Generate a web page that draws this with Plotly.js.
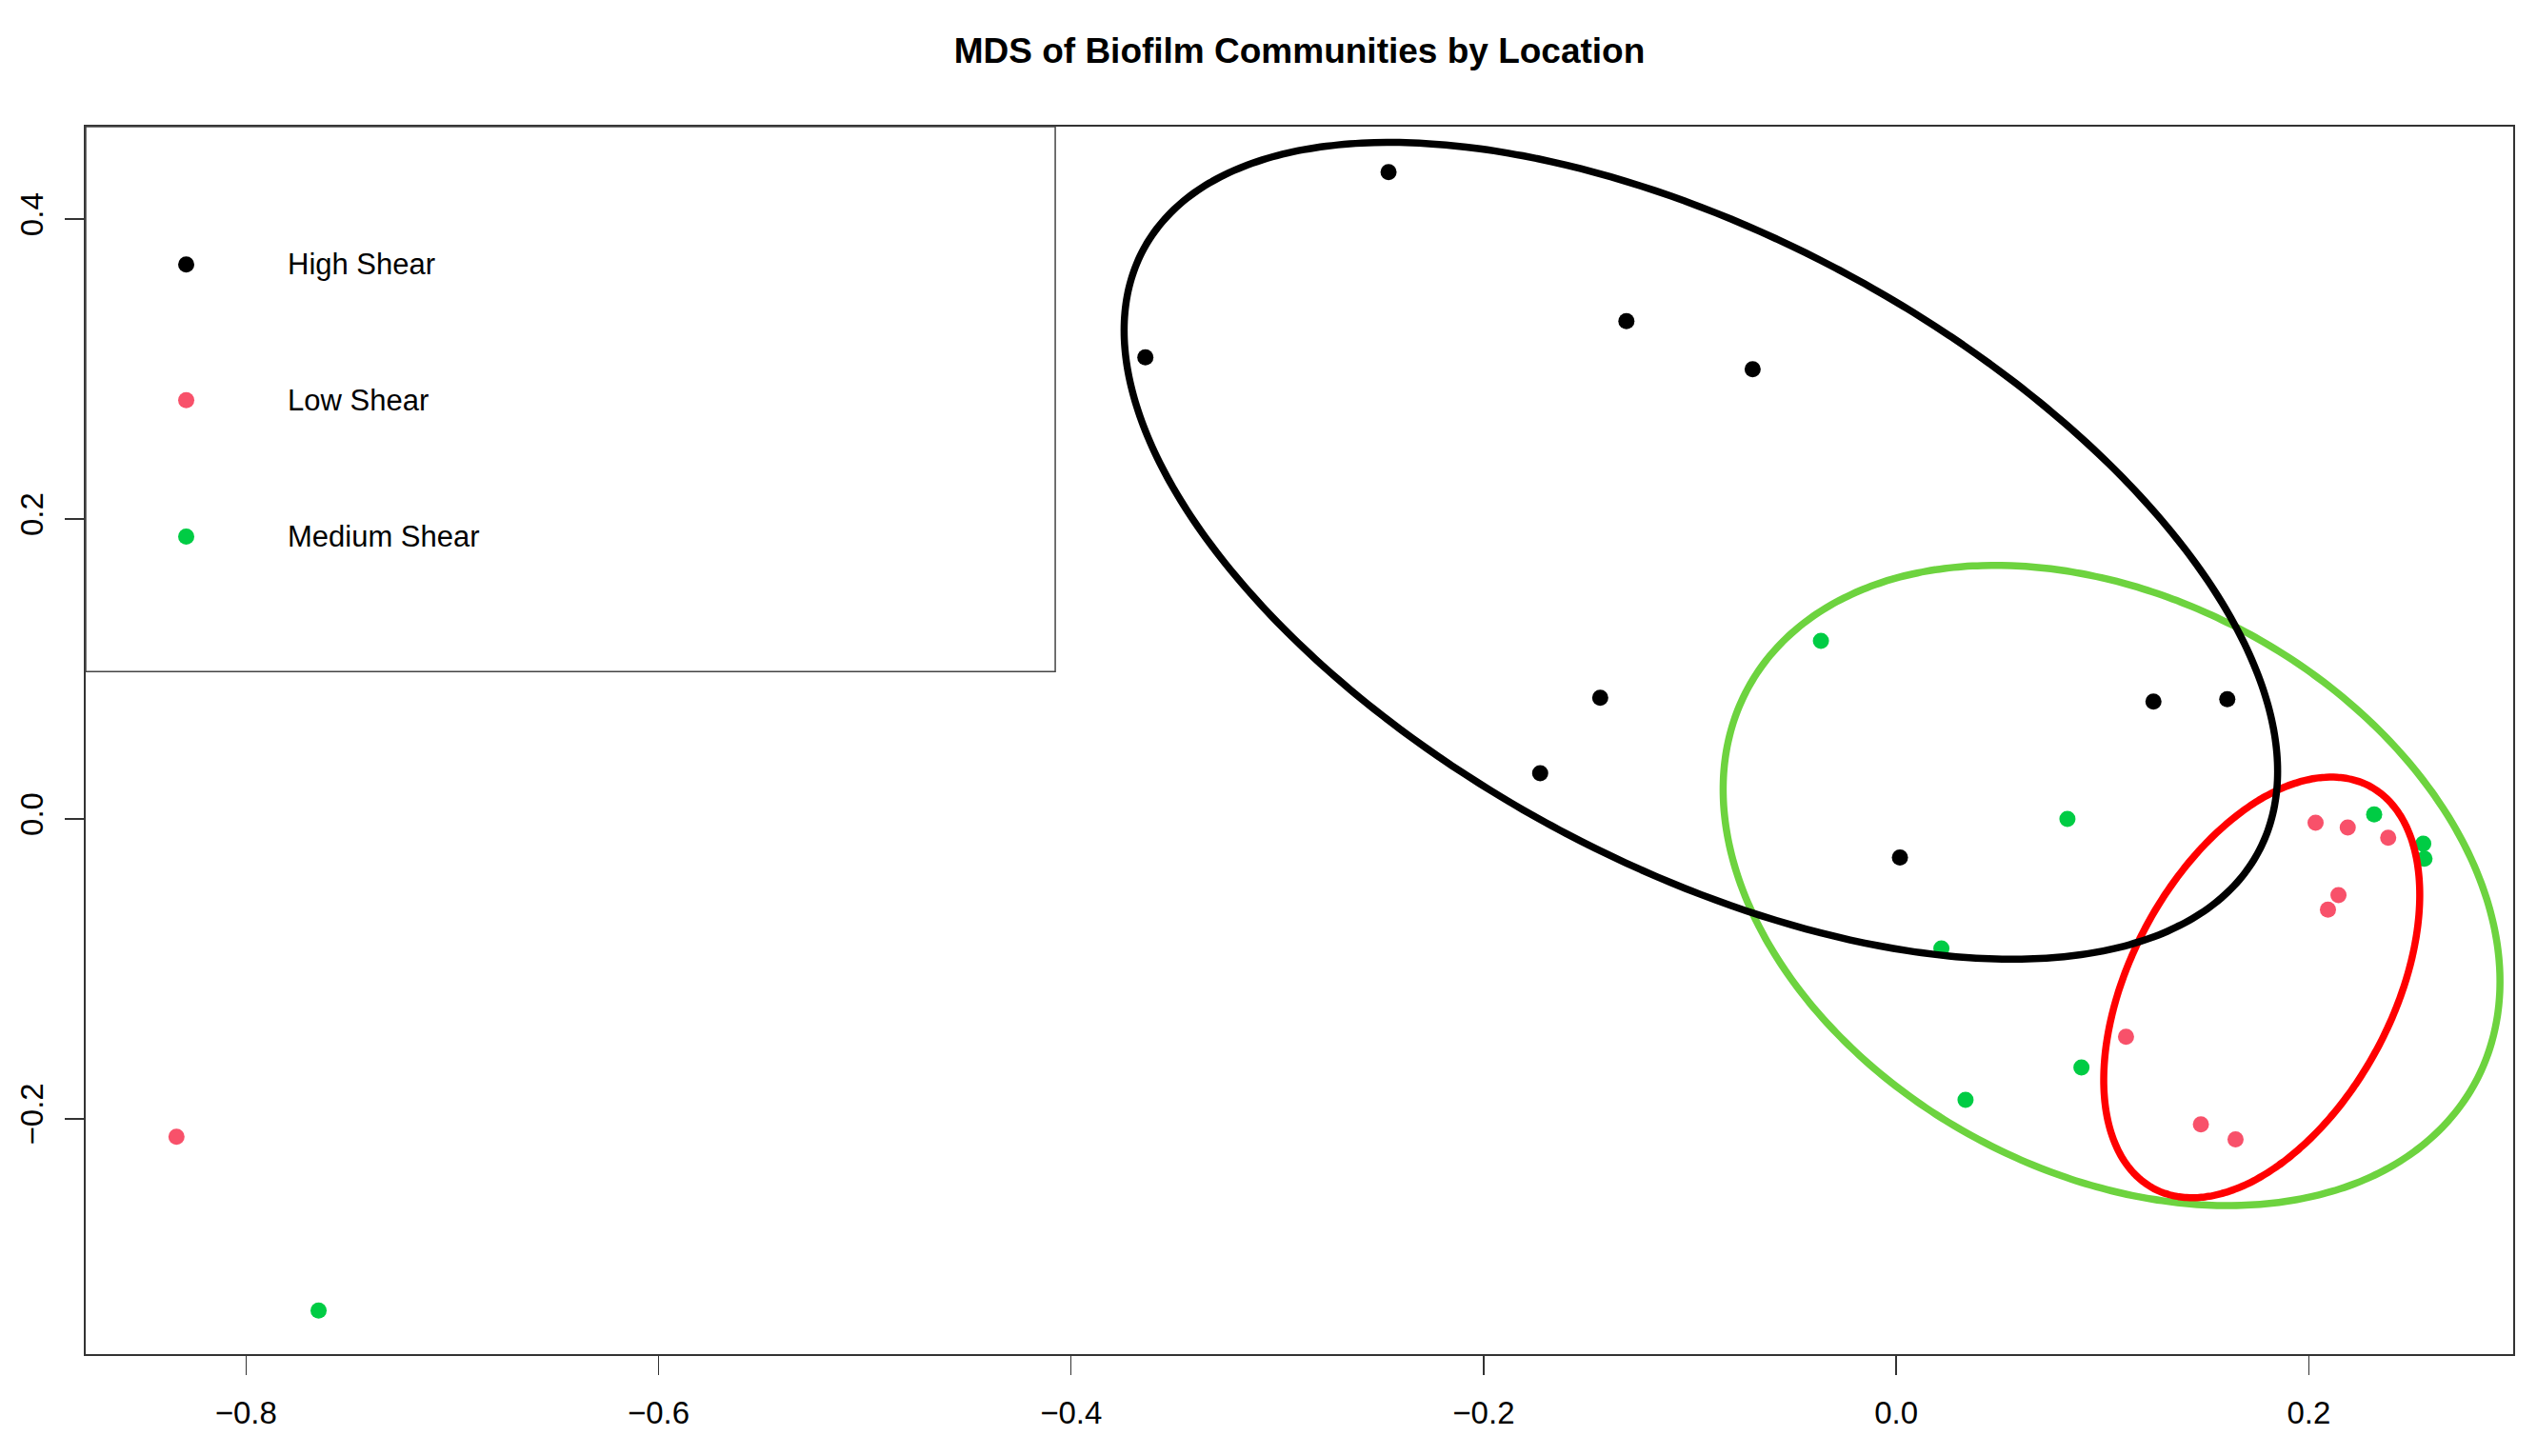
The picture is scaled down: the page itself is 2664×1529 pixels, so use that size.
<!DOCTYPE html>
<html>
<head>
<meta charset="utf-8">
<script src="https://cdn.plot.ly/plotly-3.0.1.min.js"></script>
<style>
  html, body { margin: 0; padding: 0; background: #fff; }
  #chart { width: 2664px; height: 1529px; }
</style>
</head>
<body>
<div id="chart"></div>
<script>
// MDS scores
var groups = ['High Shear', 'Low Shear', 'Medium Shear'];
var pointColors = ['#000000', '#F8516A', '#00CC44'];
var ellipseColors = ['#000000', '#FF0000', '#6DD33F'];

var high_x = [-0.2461, -0.3640, -0.1308, -0.0696, -0.1435, -0.1726, 0.1247, 0.1605, 0.0018];
var high_y = [0.4313, 0.3079, 0.3320, 0.2999, 0.0807, 0.0304, 0.0783, 0.0798, -0.0257];

var low_x = [-0.8337, 0.2033, 0.2189, 0.2385, 0.2144, 0.2093, 0.1114, 0.1477, 0.1645];
var low_y = [-0.2120, -0.0026, -0.0057, -0.0126, -0.0509, -0.0606, -0.1454, -0.2037, -0.2138];

var med_x = [-0.7648, -0.0365, 0.0830, 0.2317, 0.2555, 0.2561, 0.0219, 0.0898, 0.0336];
var med_y = [-0.3280, 0.1187, -0.0001, 0.0029, -0.0166, -0.0266, -0.0865, -0.1658, -0.1874];

// group ellipses: centre, half width, half height, tilt (cos of phase)
var ell_cx = [-0.0947, 0.1772, 0.1044];
var ell_cy = [0.1788, -0.1124, -0.0444];
var ell_rx = [0.2796, 0.0766, 0.1883];
var ell_ry = [0.2724, 0.1403, 0.2135];
var ell_cosd = [-0.54, 0.44, -0.30];

var xs = [high_x, low_x, med_x];
var ys = [high_y, low_y, med_y];

function ellipse(i) {
    var d = Math.acos(ell_cosd[i]);
    var ex = [], ey = [];
    for (var k = 0; k <= 240; k++) {
        var t = 2 * Math.PI * k / 240;
        ex.push(ell_cx[i] + ell_rx[i] * Math.cos(t));
        ey.push(ell_cy[i] + ell_ry[i] * Math.cos(t - d));
    }
    return {x: ex, y: ey};
}

var data = [];
groups.forEach(function (g, i) {
    data.push({
        x: xs[i], y: ys[i],
        mode: 'markers', type: 'scatter', name: g,
        marker: {size: 17, color: pointColors[i]},
        showlegend: false, hoverinfo: 'x+y+name'
    });
});

// ellipses drawn on top of the points, black last
[2, 1, 0].forEach(function (i) {
    var e = ellipse(i);
    data.push({
        x: e.x, y: e.y,
        mode: 'lines', type: 'scatter',
        line: {color: ellipseColors[i], width: 7.5, shape: 'spline'},
        showlegend: false, hoverinfo: 'skip'
    });
});

// hand made legend, R style
var legRows = [0.8877, 0.7771, 0.6661];
data.push({
    x: [0.0414, 0.0414, 0.0414], y: legRows,
    xaxis: 'x2', yaxis: 'y2',
    mode: 'markers', type: 'scatter',
    marker: {size: 17, color: pointColors},
    showlegend: false, hoverinfo: 'skip'
});

var annotations = groups.map(function (g, i) {
    return {
        xref: 'paper', yref: 'paper', x: 0.0822, y: legRows[i],
        xanchor: 'left', yanchor: 'middle', showarrow: false,
        text: g, font: {family: 'Liberation Sans, Arial, sans-serif', size: 31, color: '#000'}
    };
});

var tickFont = {family: 'Liberation Sans, Arial, sans-serif', size: 33, color: '#000'};

var layout = {
    width: 2664, height: 1529,
    margin: {l: 90, r: 25, t: 133, b: 107},
    paper_bgcolor: '#fff', plot_bgcolor: '#fff',
    showlegend: false,
    title: {
        text: '<b>MDS of Biofilm Communities by Location</b>',
        x: 0.5, xref: 'paper', xanchor: 'center',
        y: 0.9653, yref: 'container', yanchor: 'middle',
        font: {family: 'Liberation Sans, Arial, sans-serif', size: 37, color: '#000'}
    },
    xaxis: {
        range: [-0.8777, 0.2991],
        tickvals: [-0.8, -0.6, -0.4, -0.2, 0.0, 0.2],
        ticktext: ['\u22120.8', '\u22120.6', '\u22120.4', '\u22120.2', '0.0', '0.2'],
        ticks: 'outside', ticklen: 20, tickwidth: 1.5, tickcolor: '#333',
        ticklabelstandoff: 11,
        showline: true, mirror: true, linecolor: '#333', linewidth: 2,
        showgrid: false, zeroline: false, tickfont: tickFont
    },
    yaxis: {
        range: [-0.357, 0.4617],
        tickvals: [-0.2, 0.0, 0.2, 0.4],
        ticktext: ['\u22120.2', '0.0', '0.2', '0.4'],
        tickangle: -90,
        ticks: 'outside', ticklen: 20, tickwidth: 1.5, tickcolor: '#333',
        ticklabelstandoff: 10,
        showline: true, mirror: true, linecolor: '#333', linewidth: 2,
        showgrid: false, zeroline: false, tickfont: tickFont
    },
    xaxis2: {overlaying: 'x', range: [0, 1], visible: false, fixedrange: true},
    yaxis2: {overlaying: 'y', range: [0, 1], visible: false, fixedrange: true},
    shapes: [{
        type: 'rect', xref: 'paper', yref: 'paper',
        x0: 0, x1: 0.3994, y0: 0.5561, y1: 1,
        line: {color: '#444', width: 1.5}
    }],
    annotations: annotations
};

Plotly.newPlot('chart', data, layout, {displayModeBar: false, staticPlot: true});
</script>
</body>
</html>
